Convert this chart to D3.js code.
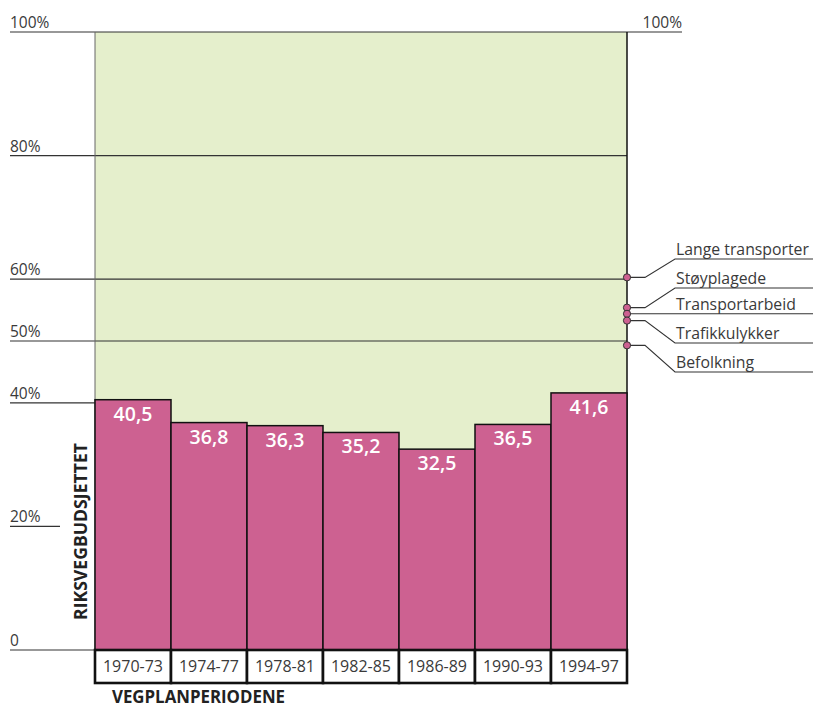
<!DOCTYPE html>
<html>
<head>
<meta charset="utf-8">
<script src="https://cdn.jsdelivr.net/npm/d3@7"></script>
<style>
  html, body { margin: 0; padding: 0; background: #fff; }
  svg { display: block; }
  text { font-family: "Open Sans", "Noto Sans", sans-serif; }
</style>
</head>
<body>
<svg id="chart" width="813" height="708"></svg>
<script>
// ---- Data ----
const periods = ["1970-73", "1974-77", "1978-81", "1982-85", "1986-89", "1990-93", "1994-97"];
const shares = [40.5, 36.8, 36.3, 35.2, 32.5, 36.5, 41.6];
const tickValues = [0, 20, 40, 50, 60, 80, 100];
const tickLabels = ["0", "20%", "40%", "50%", "60%", "80%", "100%"];
const refNames = ["Lange transporter", "Støyplagede", "Transportarbeid", "Trafikkulykker", "Befolkning"];
const refValues = [60.3, 55.4, 54.4, 53.3, 49.3];
const yTitle = "RIKSVEGBUDSJETTET";
const xTitle = "VEGPLANPERIODENE";

// ---- Layout ----
const plotL = 95, plotR = 627, plotT = 32, plotB = 650;
const svg = d3.select("#chart");
const y = d3.scaleLinear().domain([0, 100]).range([plotB, plotT]);
const x = d3.scaleBand().domain(periods).range([plotL, plotR]).padding(0);

const pink = "#cd6191";
const green = "#e5efcc";
const ink = "#333";
const txt = "#3a3a3a";

// background plot area
svg.append("rect")
  .attr("x", plotL).attr("y", y(100))
  .attr("width", plotR - plotL).attr("height", y(0) - y(100))
  .attr("fill", green);

// grid / tick lines
const tickEnd = {0: plotL, 20: 60, 40: plotL, 50: plotR, 60: plotR, 80: plotR, 100: plotR};
svg.append("g").selectAll("line").data(tickValues).join("line")
  .attr("x1", 10).attr("x2", d => tickEnd[d])
  .attr("y1", d => y(d)).attr("y2", d => y(d))
  .attr("stroke", ink).attr("stroke-width", 1.2);

svg.append("g").selectAll("text").data(tickValues).join("text")
  .attr("x", 10).attr("y", d => y(d) - 4)
  .attr("font-size", 15.5).attr("font-weight", 400).attr("fill", txt)
  .text((d, i) => tickLabels[i]);

// right 100% label and line
svg.append("line").attr("x1", plotR).attr("x2", 682)
  .attr("y1", y(100)).attr("y2", y(100)).attr("stroke", ink).attr("stroke-width", 1.2);
svg.append("text").attr("x", 682).attr("y", y(100) - 4)
  .attr("text-anchor", "end").attr("font-size", 15.5).attr("font-weight", 400)
  .attr("fill", txt).text("100%");

// left frame (grey) and right frame (black)
svg.append("line").attr("x1", plotL).attr("x2", plotL)
  .attr("y1", y(100)).attr("y2", y(0)).attr("stroke", "#666").attr("stroke-width", 1);
svg.append("line").attr("x1", plotR).attr("x2", plotR)
  .attr("y1", y(100)).attr("y2", y(0)).attr("stroke", "#111").attr("stroke-width", 1.5);

// bars
svg.append("g").selectAll("rect").data(shares).join("rect")
  .attr("x", (d, i) => x(periods[i]))
  .attr("y", d => y(d))
  .attr("width", x.bandwidth())
  .attr("height", d => y(0) - y(d))
  .attr("fill", pink).attr("stroke", "#111").attr("stroke-width", 1.5);

// bar value labels
svg.append("g").selectAll("text").data(shares).join("text")
  .attr("x", (d, i) => x(periods[i]) + x.bandwidth() / 2)
  .attr("y", d => y(d) + 21)
  .attr("text-anchor", "middle")
  .attr("font-size", 19.5).attr("font-weight", 600).attr("fill", "#fff")
  .text(d => String(d).replace(".", ","));

// x label boxes
const boxTop = plotB, boxH = 33;
svg.append("g").selectAll("rect").data(periods).join("rect")
  .attr("x", d => x(d)).attr("y", boxTop)
  .attr("width", x.bandwidth()).attr("height", boxH)
  .attr("fill", "#fff").attr("stroke", "#111").attr("stroke-width", 2.6);
svg.append("g").selectAll("text").data(periods).join("text")
  .attr("x", d => x(d) + x.bandwidth() / 2).attr("y", boxTop + 22)
  .attr("text-anchor", "middle").attr("font-size", 16).attr("font-weight", 400)
  .attr("fill", txt).text(d => d);

// axis titles
svg.append("text")
  .attr("transform", `translate(87,${(443 + 620) / 2}) rotate(-90)`)
  .attr("text-anchor", "middle").attr("font-size", 18.5).attr("font-weight", 700)
  .attr("textLength", 177).attr("lengthAdjust", "spacingAndGlyphs")
  .attr("fill", "#222").text(yTitle);
svg.append("text").attr("x", 112).attr("y", 703)
  .attr("font-size", 17.5).attr("font-weight", 700)
  .attr("textLength", 173).attr("lengthAdjust", "spacingAndGlyphs")
  .attr("fill", "#222").text(xTitle);

// reference markers with leader lines
const underlineY = [259, 288, null, 343, 372];
const g = svg.append("g");
refValues.forEach((v, i) => {
  const yy = y(v);
  const uy = underlineY[i] === null ? yy : underlineY[i];
  const pts = underlineY[i] === null
    ? [[plotR, yy], [813, yy]]
    : [[plotR, yy], [645, yy], [675, uy], [813, uy]];
  g.append("path").attr("d", d3.line()(pts))
    .attr("fill", "none").attr("stroke", ink).attr("stroke-width", 1.1);
  g.append("text").attr("x", 676).attr("y", uy - 4)
    .attr("font-size", 15.8).attr("font-weight", 400).attr("fill", txt)
    .text(refNames[i]);
});
g.selectAll("circle").data(refValues).join("circle")
  .attr("cx", plotR).attr("cy", d => y(d)).attr("r", 3.6)
  .attr("fill", pink).attr("stroke", "#333").attr("stroke-width", 1);
</script>
</body>
</html>
